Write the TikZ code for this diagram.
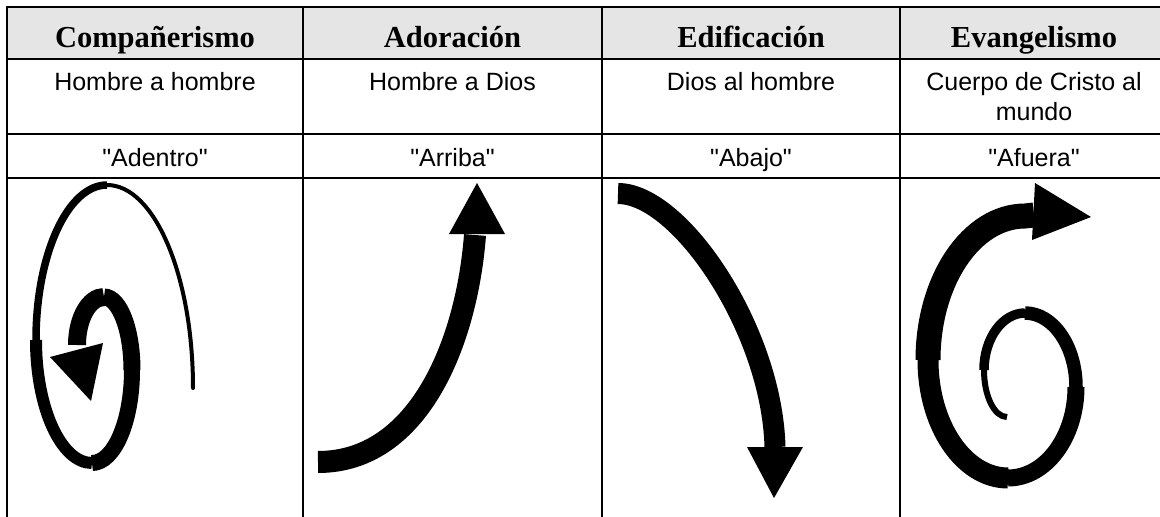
\documentclass[tikz,border=0pt]{standalone}
\usepackage{fontspec}
\setmainfont{Liberation Serif}
\newfontfamily\arialf{Liberation Sans}
\definecolor{hdrgray}{RGB}{229,229,229}
\tikzset{
  tablerule/.style={line width=2.4pt, black},
  hdrtext/.style={font=\bfseries\fontsize{30.5}{36}\selectfont, anchor=base, inner sep=0pt},
  celltext/.style={font=\arialf\fontsize{25}{30}\selectfont, anchor=base, inner sep=0pt},
  seg/.style={line width=#1, black},
  headtip/.style={fill=black, draw=none},
}
\begin{document}
\begin{tikzpicture}[x=1pt,y=1pt]
\useasboundingbox (0,0) rectangle (1160,-517);
% header band
\fill[hdrgray] (7,-7) rectangle (1162,-59);
% table rules
\draw[tablerule] (5.8,-7) -- (1162,-7);
\draw[tablerule] (7,-59) -- (1162,-59);
\draw[tablerule] (7,-134) -- (1162,-134);
\draw[tablerule] (7,-178) -- (1162,-178);
\draw[tablerule] (7,-5.8) -- (7,-520);
\draw[tablerule] (303,-7) -- (303,-520);
\draw[tablerule] (602,-7) -- (602,-520);
\draw[tablerule] (900,-7) -- (900,-520);
% header texts
\node[hdrtext] (h1) at (155,-47) {Compañerismo};
\node[hdrtext] (h2) at (452.5,-47) {Adoración};
\node[hdrtext] (h3) at (751,-47) {Edificación};
\node[hdrtext] (h4) at (1034,-47) {Evangelismo};
% second row
\node[celltext] (r1) at (155,-90) {Hombre a hombre};
\node[celltext] (r2) at (452.5,-90) {Hombre a Dios};
\node[celltext] (r3) at (751,-90) {Dios al hombre};
\node[celltext] (r4a) at (1034,-90) {Cuerpo de Cristo al};
\node[celltext] (r4b) at (1034,-120) {mundo};
% third row
\node[celltext] (d1) at (155,-166) {"Adentro"};
\node[celltext] (d2) at (452.5,-166) {"Arriba"};
\node[celltext] (d3) at (751,-166) {"Abajo"};
\node[celltext] (d4) at (1034,-166) {"Afuera"};
% Compañerismo: inward spiral
\draw[seg=4pt, line cap=round] (193,-388) arc[start angle=0, end angle=90, x radius=86pt, y radius=203pt];
\draw[seg=7.5pt] (107,-185) arc[start angle=90, end angle=180, x radius=71pt, y radius=155pt];
\draw[seg=12pt] (36,-340) arc[start angle=180, end angle=270, x radius=56pt, y radius=123pt];
\draw[seg=16pt] (92,-463) arc[start angle=270, end angle=360, x radius=40pt, y radius=93pt];
\draw[seg=17pt] (132,-370) arc[start angle=0, end angle=90, x radius=28pt, y radius=73pt];
\draw[seg=18pt] (104,-297) arc[start angle=90, end angle=180, x radius=27pt, y radius=48pt];
\fill[headtip] (50,-357) -- (103,-343) -- (91,-401) -- cycle;
% Adoración: upward arrow
\draw[seg=22pt] (318,-462) .. controls (420,-462) and (467,-340) .. (475,-235);
\fill[headtip] (449,-234) -- (505,-234) -- (477,-183) -- cycle;
% Edificación: downward arrow
\draw[seg=21pt] (618,-193.5) .. controls (680,-193.5) and (772,-330) .. (775,-447);
\fill[headtip] (747,-447) -- (803,-447) -- (774,-498) -- cycle;
% Evangelismo: outward spiral
\draw[seg=6pt] (1007,-417) arc[start angle=270, end angle=180, x radius=23pt, y radius=47pt];
\draw[seg=9.5pt] (984,-370) arc[start angle=180, end angle=90, x radius=41pt, y radius=57pt];
\draw[seg=13.5pt] (1025,-313) arc[start angle=90, end angle=0, x radius=51pt, y radius=74pt];
\draw[seg=17pt] (1076,-387) arc[start angle=0, end angle=-90, x radius=68pt, y radius=91pt];
\draw[seg=21pt] (1008,-478) arc[start angle=-90, end angle=-180, x radius=80pt, y radius=118pt];
\draw[seg=25pt] (928,-360) arc[start angle=180, end angle=90, x radius=97pt, y radius=144pt] -- (1034,-215);
\fill[headtip] (1035,-183) -- (1091,-217) -- (1032,-240) -- cycle;
\end{tikzpicture}
\end{document}
